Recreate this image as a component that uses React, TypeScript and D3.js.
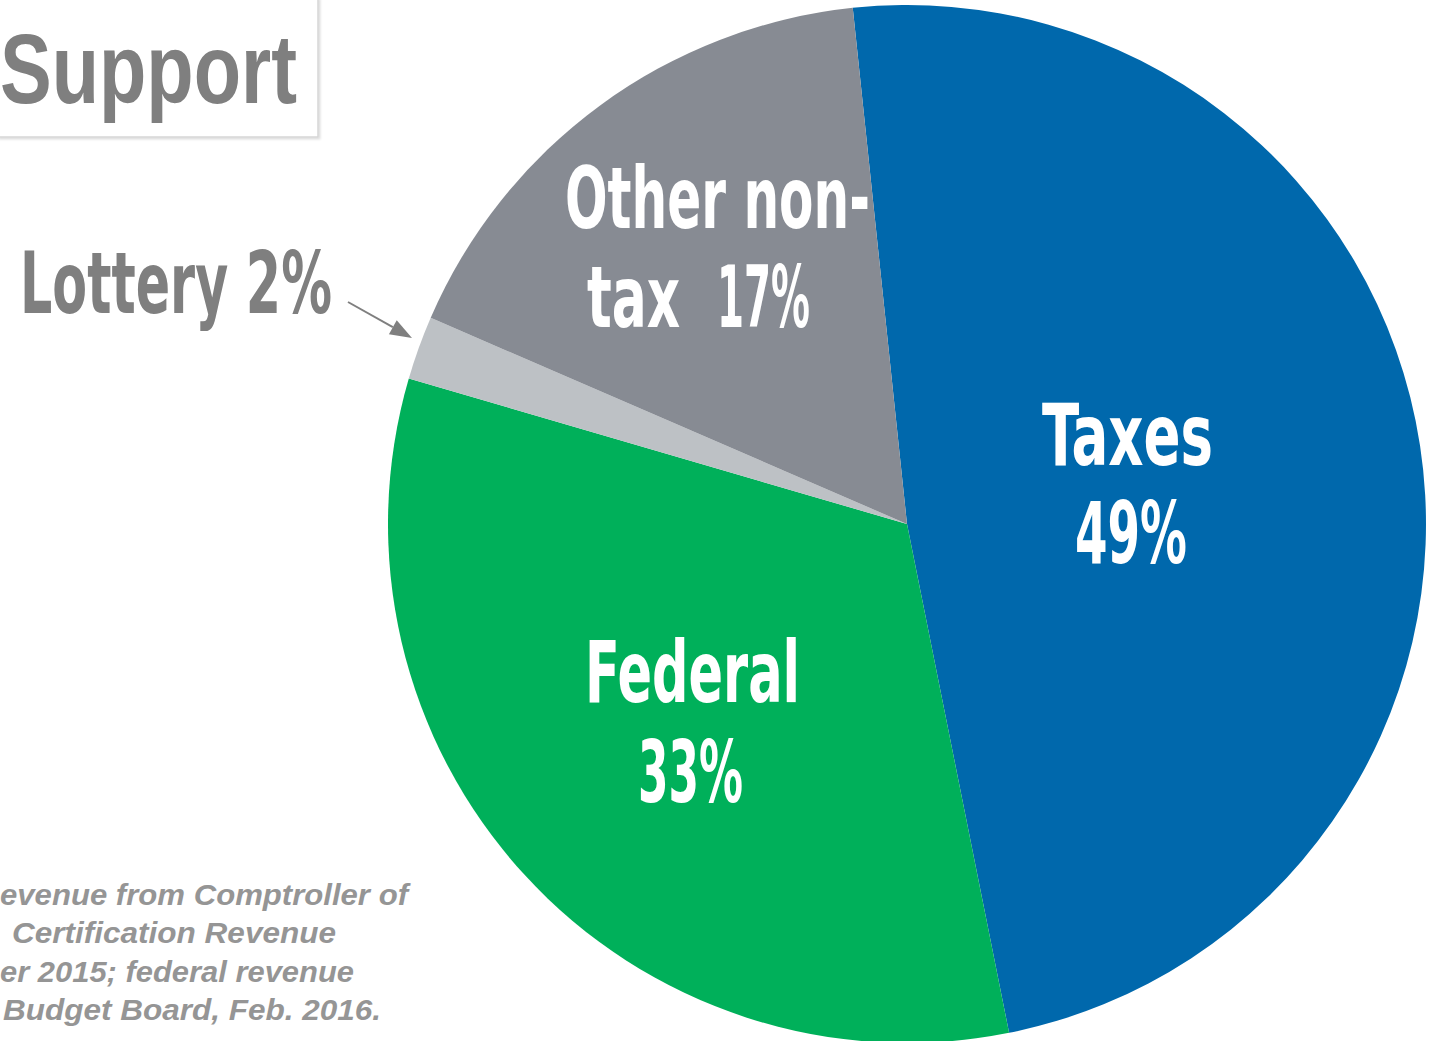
import React from "react";
import * as d3 from "d3";

// ---- data ----
const categories = ["Taxes", "Federal", "Lottery", "Other non-tax"];
const values = [49, 33, 2, 17];
const sliceColors = ["#0068AC", "#00B05A", "#BDC1C5", "#878B93"];

const titleText = "Support";
const sourceLines = [
  "evenue from Comptroller of",
  "Certification Revenue",
  "er 2015; federal revenue",
  "Budget Board, Feb. 2016.",
];

// ---- layout ----
const W = 1429;
const H = 1041;
const CX = 907;
const CY = 524;
const R = 519;
const START_DEG = -6.0;

// label text lines: [text, left x, baseline y, width, colour]
const labelLines: [string, number, number, number, string][] = [
  ["Taxes", 1042, 465, 171, "#ffffff"],
  ["49%", 1075, 563, 112, "#ffffff"],
  ["Federal", 585, 702, 215, "#ffffff"],
  ["33%", 638, 802, 105, "#ffffff"],
  ["Other non-", 565, 228, 305, "#ffffff"],
  ["tax", 587, 327, 93, "#ffffff"],
  ["17%", 717, 327, 93, "#ffffff"],
  ["Lottery 2%", 20, 313, 312, "#7f7f7f"],
];

const sourceLayout: [number, number, number][] = [
  [0, 905, 408],
  [12, 943, 324],
  [0, 982, 354],
  [3, 1020, 378],
];

export default function App() {
  const pie = d3
    .pie<number>()
    .sort(null)
    .value((d) => d)
    .startAngle((START_DEG * Math.PI) / 180)
    .endAngle((START_DEG * Math.PI) / 180 + 2 * Math.PI);
  const arcs = pie(values);
  const arc = d3.arc<d3.PieArcDatum<number>>().innerRadius(0).outerRadius(R);

  const labelFont = "'DejaVu Sans Condensed', 'DejaVu Sans', sans-serif";

  // arrow geometry
  const ax1 = 348, ay1 = 302, ax2 = 412, ay2 = 338;
  const len = Math.hypot(ax2 - ax1, ay2 - ay1);
  const ux = (ax2 - ax1) / len, uy = (ay2 - ay1) / len;
  const headL = 22, headW = 8;
  const bx = ax2 - ux * headL, by = ay2 - uy * headL;
  const head = `M${ax2},${ay2} L${bx - uy * headW},${by + ux * headW} L${bx + uy * headW},${by - ux * headW} Z`;

  return (
    <svg
      width={W}
      height={H}
      viewBox={`0 0 ${W} ${H}`}
      style={{ position: "absolute", left: 0, top: 0, background: "#ffffff" }}
    >
      <defs>
        <filter id="boxShadow" x="-10%" y="-10%" width="130%" height="130%">
          <feDropShadow dx="1.5" dy="1.5" stdDeviation="1.2" floodColor="#000" floodOpacity="0.15" />
        </filter>
      </defs>

      {/* title box */}
      <rect
        x={-2}
        y={-2}
        width={320}
        height={139}
        fill="#ffffff"
        stroke="#d6d6d6"
        strokeWidth={1.5}
        filter="url(#boxShadow)"
      />
      <text
        x={0}
        y={103}
        fontFamily="'Liberation Sans', Arial, sans-serif"
        fontWeight="bold"
        fontSize={98}
        fill="#7f7f7f"
        textLength={297}
        lengthAdjust="spacingAndGlyphs"
      >
        {titleText}
      </text>

      {/* pie */}
      <g transform={`translate(${CX},${CY})`}>
        {arcs.map((a, i) => (
          <path key={categories[i]} d={arc(a) || ""} fill={sliceColors[i]} />
        ))}
      </g>

      {/* lottery arrow */}
      <line x1={ax1} y1={ay1} x2={bx} y2={by} stroke="#7f7f7f" strokeWidth={2} />
      <path d={head} fill="#7f7f7f" />

      {/* labels */}
      {labelLines.map(([t, x, y, w, c]) => (
        <text
          key={t}
          x={x}
          y={y}
          fontFamily={labelFont}
          fontWeight="bold"
          fontSize={86}
          fill={c}
          textLength={w}
          lengthAdjust="spacingAndGlyphs"
        >
          {t}
        </text>
      ))}

      {/* source */}
      {sourceLines.map((t, i) => (
        <text
          key={t}
          x={sourceLayout[i][0]}
          y={sourceLayout[i][1]}
          fontFamily="'Liberation Sans', Arial, sans-serif"
          fontWeight="bold"
          fontStyle="italic"
          fontSize={30}
          fill="#959595"
          textLength={sourceLayout[i][2]}
          lengthAdjust="spacingAndGlyphs"
        >
          {t}
        </text>
      ))}
    </svg>
  );
}
